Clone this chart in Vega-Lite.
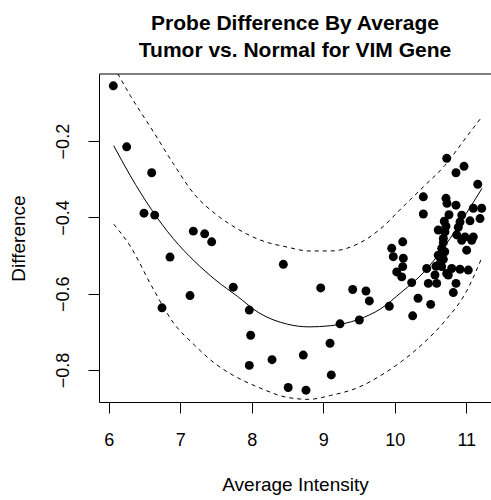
{
  "$schema": "https://vega.github.io/schema/vega-lite/v6.json",
  "width": 392,
  "height": 328,
  "autosize": {"type": "none"},
  "padding": {"left": 99, "top": 74, "right": 0, "bottom": 98},
  "background": "white",
  "title": {
    "text": ["Probe Difference By Average", "Tumor vs. Normal for VIM Gene"],
    "font": "Liberation Sans",
    "fontSize": 21,
    "fontWeight": "bold",
    "lineHeight": 27,
    "color": "black",
    "anchor": "middle",
    "offset": 13
  },
  "config": {
    "view": {"stroke": null},
    "axis": {
      "grid": false,
      "domainColor": "black",
      "domainWidth": 1,
      "tickColor": "black",
      "tickWidth": 1,
      "labelColor": "black",
      "titleColor": "black",
      "labelFont": "Liberation Sans",
      "titleFont": "Liberation Sans",
      "labelFontSize": 18,
      "titleFontSize": 19,
      "titleFontWeight": "normal"
    }
  },
  "datasets": {
    "points": [
      {"avg": 6.064, "diff": -0.055}, {"avg": 6.251, "diff": -0.215}, {"avg": 6.601, "diff": -0.283}, {"avg": 6.493, "diff": -0.389},
      {"avg": 6.643, "diff": -0.394}, {"avg": 7.183, "diff": -0.436}, {"avg": 7.342, "diff": -0.443}, {"avg": 7.44, "diff": -0.464},
      {"avg": 6.857, "diff": -0.504}, {"avg": 8.442, "diff": -0.523}, {"avg": 7.742, "diff": -0.583}, {"avg": 7.137, "diff": -0.605},
      {"avg": 6.745, "diff": -0.637}, {"avg": 7.966, "diff": -0.643}, {"avg": 7.985, "diff": -0.709}, {"avg": 8.284, "diff": -0.773},
      {"avg": 7.966, "diff": -0.788}, {"avg": 8.51, "diff": -0.846}, {"avg": 8.759, "diff": -0.853}, {"avg": 8.721, "diff": -0.761},
      {"avg": 9.113, "diff": -0.813}, {"avg": 9.095, "diff": -0.73}, {"avg": 9.235, "diff": -0.679}, {"avg": 9.505, "diff": -0.669},
      {"avg": 8.965, "diff": -0.585}, {"avg": 9.412, "diff": -0.589}, {"avg": 9.598, "diff": -0.593}, {"avg": 9.645, "diff": -0.619},
      {"avg": 9.924, "diff": -0.633}, {"avg": 10.251, "diff": -0.658}, {"avg": 10.326, "diff": -0.612}, {"avg": 10.503, "diff": -0.628},
      {"avg": 10.727, "diff": -0.245}, {"avg": 10.857, "diff": -0.283}, {"avg": 10.969, "diff": -0.266}, {"avg": 11.161, "diff": -0.313},
      {"avg": 10.4, "diff": -0.346}, {"avg": 10.4, "diff": -0.391}, {"avg": 10.717, "diff": -0.35}, {"avg": 10.731, "diff": -0.363},
      {"avg": 10.857, "diff": -0.368}, {"avg": 10.759, "diff": -0.393}, {"avg": 10.937, "diff": -0.394}, {"avg": 11.099, "diff": -0.376},
      {"avg": 11.216, "diff": -0.376}, {"avg": 11.193, "diff": -0.403}, {"avg": 11.053, "diff": -0.409}, {"avg": 10.913, "diff": -0.412},
      {"avg": 10.889, "diff": -0.426}, {"avg": 10.717, "diff": -0.423}, {"avg": 10.867, "diff": -0.446}, {"avg": 10.68, "diff": -0.455},
      {"avg": 10.983, "diff": -0.451}, {"avg": 11.099, "diff": -0.451}, {"avg": 10.937, "diff": -0.46}, {"avg": 11.077, "diff": -0.46},
      {"avg": 10.112, "diff": -0.464}, {"avg": 9.958, "diff": -0.481}, {"avg": 9.98, "diff": -0.503}, {"avg": 10.12, "diff": -0.507},
      {"avg": 10.112, "diff": -0.529}, {"avg": 10.028, "diff": -0.543}, {"avg": 10.098, "diff": -0.556}, {"avg": 10.237, "diff": -0.571},
      {"avg": 10.447, "diff": -0.534}, {"avg": 10.47, "diff": -0.573}, {"avg": 10.587, "diff": -0.573}, {"avg": 10.563, "diff": -0.551},
      {"avg": 10.577, "diff": -0.528}, {"avg": 10.623, "diff": -0.503}, {"avg": 10.657, "diff": -0.481}, {"avg": 10.68, "diff": -0.466},
      {"avg": 10.797, "diff": -0.534}, {"avg": 10.749, "diff": -0.551}, {"avg": 10.913, "diff": -0.536}, {"avg": 11.029, "diff": -0.538},
      {"avg": 10.857, "diff": -0.573}, {"avg": 10.819, "diff": -0.597}, {"avg": 11.006, "diff": -0.486}, {"avg": 10.657, "diff": -0.529},
      {"avg": 10.633, "diff": -0.521}, {"avg": 10.609, "diff": -0.499}, {"avg": 10.727, "diff": -0.547}, {"avg": 10.609, "diff": -0.433},
      {"avg": 10.703, "diff": -0.438}, {"avg": 10.693, "diff": -0.41}, {"avg": 10.7, "diff": -0.49}, {"avg": 10.68, "diff": -0.51}
    ],
    "curve": [
      {"avg": 6.07, "fit": -0.212, "lo": -0.418, "hi": -0.004},
      {"avg": 6.3, "fit": -0.29, "lo": -0.475, "hi": -0.08},
      {"avg": 6.6, "fit": -0.38, "lo": -0.58, "hi": -0.168},
      {"avg": 6.9, "fit": -0.455, "lo": -0.675, "hi": -0.258},
      {"avg": 7.2, "fit": -0.515, "lo": -0.735, "hi": -0.34},
      {"avg": 7.5, "fit": -0.565, "lo": -0.785, "hi": -0.392},
      {"avg": 7.8, "fit": -0.607, "lo": -0.82, "hi": -0.43},
      {"avg": 8.1, "fit": -0.65, "lo": -0.846, "hi": -0.458},
      {"avg": 8.5, "fit": -0.68, "lo": -0.872, "hi": -0.478},
      {"avg": 8.8, "fit": -0.687, "lo": -0.877, "hi": -0.488},
      {"avg": 9.1, "fit": -0.684, "lo": -0.867, "hi": -0.488},
      {"avg": 9.5, "fit": -0.667, "lo": -0.845, "hi": -0.468},
      {"avg": 9.8, "fit": -0.64, "lo": -0.815, "hi": -0.43},
      {"avg": 10.1, "fit": -0.595, "lo": -0.777, "hi": -0.375},
      {"avg": 10.4, "fit": -0.545, "lo": -0.73, "hi": -0.32},
      {"avg": 10.7, "fit": -0.475, "lo": -0.672, "hi": -0.264},
      {"avg": 11.0, "fit": -0.39, "lo": -0.595, "hi": -0.19},
      {"avg": 11.22, "fit": -0.324, "lo": -0.505, "hi": -0.136}
    ],
    "frame": [{"top": -0.024}]
  },
  "layer": [
    {
      "data": {"name": "points"},
      "mark": {"type": "circle", "color": "black", "opacity": 1, "size": 80},
      "encoding": {
        "x": {"field": "avg", "type": "quantitative", "scale": {"domain": [5.864, 11.3465], "nice": false, "zero": false},
              "axis": {"title": "Average Intensity", "values": [6, 7, 8, 9, 10, 11], "format": "d", "tickSize": 11, "labelPadding": 18, "titlePadding": 26}},
        "y": {"field": "diff", "type": "quantitative", "scale": {"domain": [-0.884, -0.024], "nice": false, "zero": false},
              "axis": {"title": "Difference", "values": [-0.8, -0.6, -0.4, -0.2], "format": ".1f", "tickSize": 11, "labelAngle": 270, "labelAlign": "center", "labelBaseline": "bottom", "labelPadding": 16, "titlePadding": 26}}
      }
    },
    {
      "data": {"name": "frame"},
      "mark": {"type": "rule", "color": "black", "strokeWidth": 1},
      "encoding": {
        "y": {"field": "top", "type": "quantitative"}
      }
    },
    {
      "data": {"name": "curve"},
      "mark": {"type": "line", "color": "black", "strokeWidth": 1, "interpolate": "monotone", "clip": true},
      "encoding": {
        "x": {"field": "avg", "type": "quantitative"},
        "y": {"field": "fit", "type": "quantitative"}
      }
    },
    {
      "data": {"name": "curve"},
      "mark": {"type": "line", "color": "black", "strokeWidth": 1, "strokeDash": [4, 4], "interpolate": "monotone", "clip": true},
      "encoding": {
        "x": {"field": "avg", "type": "quantitative"},
        "y": {"field": "hi", "type": "quantitative"}
      }
    },
    {
      "data": {"name": "curve"},
      "mark": {"type": "line", "color": "black", "strokeWidth": 1, "strokeDash": [4, 4], "interpolate": "monotone", "clip": true},
      "encoding": {
        "x": {"field": "avg", "type": "quantitative"},
        "y": {"field": "lo", "type": "quantitative"}
      }
    }
  ]
}
